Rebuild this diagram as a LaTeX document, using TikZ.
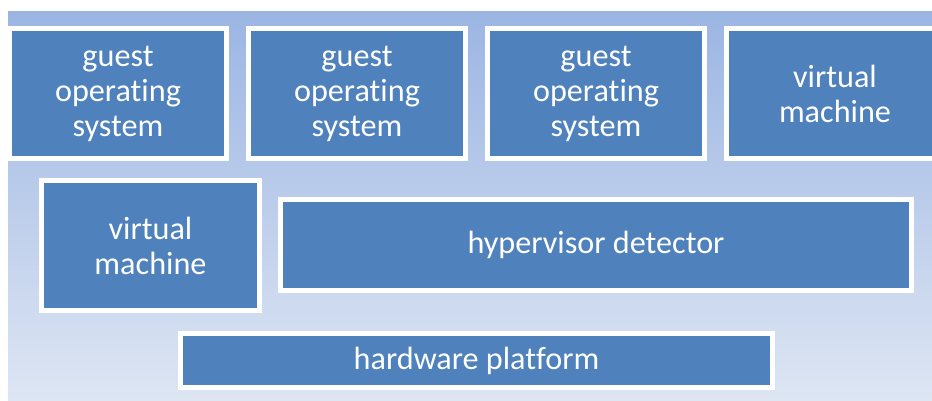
\documentclass[tikz,border=0pt]{standalone}
\usepackage{fontspec}
\setmainfont{Carlito}[Ligatures=NoCommon]
\definecolor{boxblue}{RGB}{79,129,189}
\definecolor{bgtop}{RGB}{155,181,227}
\definecolor{bgbot}{RGB}{222,230,243}
\begin{document}
\begin{tikzpicture}[x=1pt,y=1pt,
  blk/.style={draw=white, line width=5pt, fill=boxblue, text=white, align=center,
    inner sep=0pt, font=\fontsize{32.2}{35}\selectfont}]
\useasboundingbox (0,0) rectangle (932,-401);
\begin{scope}
\clip (0,0) rectangle (932,-401);
\shade[top color=bgtop, bottom color=bgbot] (8,-12) rectangle (932,-401);
\node[blk, minimum width=217, minimum height=130] (g1) at (118,-93.5) {guest\\operating\\system};
\node[blk, minimum width=217, minimum height=130] (g2) at (357,-93.5) {guest\\operating\\system};
\node[blk, minimum width=217, minimum height=130] (g3) at (596,-93.5) {guest\\operating\\system};
\node[blk, minimum width=217, minimum height=130] (vm1) at (835,-93.5) {virtual\\machine};
\node[blk, minimum width=218, minimum height=130] (vm2) at (150.5,-245.5) {virtual\\machine};
\node[blk, minimum width=631, minimum height=91] (hd) at (596,-245) {hypervisor detector};
\node[blk, minimum width=592, minimum height=54] (hw) at (476.5,-360.5) {hardware platform};
\end{scope}
\end{tikzpicture}
\end{document}
